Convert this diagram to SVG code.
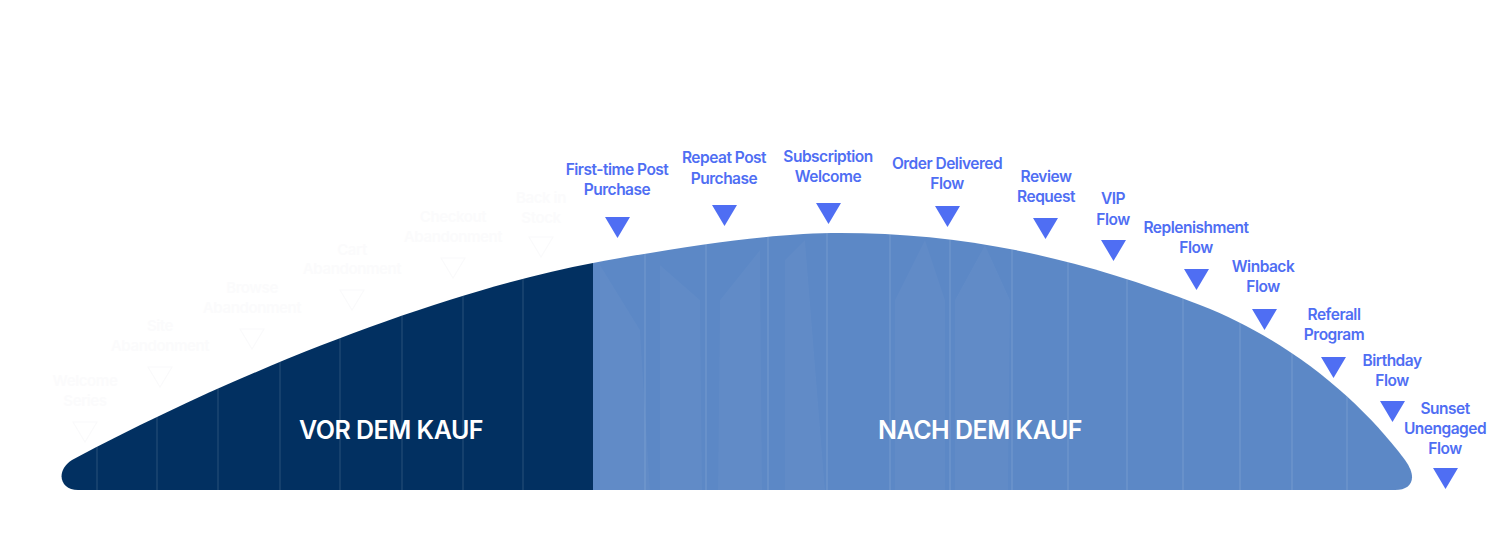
<svg xmlns="http://www.w3.org/2000/svg" width="1500" height="546" viewBox="0 0 1500 546">
  <style>
    .lbl { font-family: Inter, "Noto Sans", "Liberation Sans", sans-serif; font-weight: 600; font-size: 15.5px; letter-spacing: -0.5px; fill: #4f6ef3; text-anchor: middle; }
    .tri { fill: #4f6ef3; }
    .ghost { font-family: Inter, "Noto Sans", "Liberation Sans", sans-serif; font-weight: 600; font-size: 15px; letter-spacing: -0.4px; fill: #fbfbfc; text-anchor: middle; }
    .gtri { fill: none; stroke: #fafafb; stroke-width: 1.2; }
    .big { font-family: Inter, "Noto Sans", "Liberation Sans", sans-serif; font-weight: 600; font-size: 25px; letter-spacing: -0.5px; fill: #ffffff; text-anchor: middle; }
    .stripe { stroke: #ffffff; stroke-opacity: 0.08; stroke-width: 2; }
  </style>
  <defs>
    <clipPath id="hill">
      <path d="M 78,490 C 60,490 55,471 72,460 C 250,365 450,290 593,263 C 700,243 780,233 840,233 C 960,233 1070,255 1200,305 C 1290,340 1360,400 1405,460 C 1418,478 1412,490 1395,490 Z"/>
    </clipPath>
  </defs>
  <rect width="1500" height="546" fill="#ffffff"/>

  <g id="hill-shape" clip-path="url(#hill)">
    <rect x="0" y="200" width="593" height="300" fill="#023061"/>
    <rect x="593" y="200" width="900" height="300" fill="#5c88c6"/>
    <g class="stripe">
      <line x1="97" y1="200" x2="97" y2="490"/>
      <line x1="157" y1="200" x2="157" y2="490"/>
      <line x1="218" y1="200" x2="218" y2="490"/>
      <line x1="280" y1="200" x2="280" y2="490"/>
      <line x1="340" y1="200" x2="340" y2="490"/>
      <line x1="402" y1="200" x2="402" y2="490"/>
      <line x1="463" y1="200" x2="463" y2="490"/>
      <line x1="523" y1="200" x2="523" y2="490"/>
      <line x1="645" y1="200" x2="645" y2="490"/>
      <line x1="706" y1="200" x2="706" y2="490"/>
      <line x1="768" y1="200" x2="768" y2="490"/>
      <line x1="827" y1="200" x2="827" y2="490"/>
      <line x1="890" y1="200" x2="890" y2="490"/>
      <line x1="950" y1="200" x2="950" y2="490"/>
      <line x1="1012" y1="200" x2="1012" y2="490"/>
      <line x1="1068" y1="200" x2="1068" y2="490"/>
      <line x1="1127" y1="200" x2="1127" y2="490"/>
      <line x1="1183" y1="200" x2="1183" y2="490"/>
      <line x1="1240" y1="200" x2="1240" y2="490"/>
      <line x1="1292" y1="200" x2="1292" y2="490"/>
      <line x1="1347" y1="200" x2="1347" y2="490"/>
    </g>
    <g fill="#ffffff" fill-opacity="0.03">
      <path d="M 600,265 L 640,330 L 650,490 L 600,490 Z"/>
      <path d="M 660,265 L 700,300 L 702,490 L 660,490 Z"/>
      <path d="M 720,300 L 760,250 L 762,490 L 718,490 Z"/>
      <path d="M 785,260 L 805,240 L 825,490 L 785,490 Z"/>
      <path d="M 895,300 L 925,240 L 945,300 L 945,490 L 895,490 Z"/>
      <path d="M 955,300 L 985,245 L 1010,300 L 1008,490 L 955,490 Z"/>
    </g>
  </g>

  <g id="label-vor"><text class="big" x="391" y="439">VOR DEM KAUF</text></g>
  <g id="label-nach"><text class="big" x="980" y="439">NACH DEM KAUF</text></g>

  <g id="ghost-welcome"><text class="ghost" x="85" y="386">Welcome</text><text class="ghost" x="85" y="406">Series</text><path class="gtri" d="M 73,422 L 97,422 L 85,442 Z"/></g>
  <g id="ghost-site"><text class="ghost" x="160" y="331">Site</text><text class="ghost" x="160" y="351">Abandonment</text><path class="gtri" d="M 148,367 L 172,367 L 160,387 Z"/></g>
  <g id="ghost-browse"><text class="ghost" x="252" y="293">Browse</text><text class="ghost" x="252" y="313">Abandonment</text><path class="gtri" d="M 240,329 L 264,329 L 252,349 Z"/></g>
  <g id="ghost-cart"><text class="ghost" x="352" y="255">Cart</text><text class="ghost" x="352" y="274">Abandonment</text><path class="gtri" d="M 340,290 L 364,290 L 352,310 Z"/></g>
  <g id="ghost-checkout"><text class="ghost" x="453" y="222">Checkout</text><text class="ghost" x="453" y="242">Abandonment</text><path class="gtri" d="M 441,258 L 465,258 L 453,278 Z"/></g>
  <g id="ghost-backinstock"><text class="ghost" x="541" y="203">Back in</text><text class="ghost" x="541" y="223">Stock</text><path class="gtri" d="M 529,237 L 553,237 L 541,257 Z"/></g>

  <g id="node-first-time">
    <text class="lbl" x="617" y="175">First-time Post</text>
    <text class="lbl" x="617" y="195">Purchase</text>
    <path class="tri" d="M 605,217 L 630,217 L 617.5,238 Z"/>
  </g>
  <g id="node-repeat">
    <text class="lbl" x="724" y="163">Repeat Post</text>
    <text class="lbl" x="724" y="184">Purchase</text>
    <path class="tri" d="M 712,205 L 737,205 L 724.5,226 Z"/>
  </g>
  <g id="node-subscription">
    <text class="lbl" x="828" y="162">Subscription</text>
    <text class="lbl" x="828" y="182">Welcome</text>
    <path class="tri" d="M 816,203 L 841,203 L 828.5,224 Z"/>
  </g>
  <g id="node-order-delivered">
    <text class="lbl" x="947" y="169">Order Delivered</text>
    <text class="lbl" x="947" y="189">Flow</text>
    <path class="tri" d="M 935,206 L 960,206 L 947.5,227 Z"/>
  </g>
  <g id="node-review">
    <text class="lbl" x="1046" y="182">Review</text>
    <text class="lbl" x="1046" y="202">Request</text>
    <path class="tri" d="M 1033,218 L 1058,218 L 1045.5,239 Z"/>
  </g>
  <g id="node-vip">
    <text class="lbl" x="1113" y="204">VIP</text>
    <text class="lbl" x="1113" y="225">Flow</text>
    <path class="tri" d="M 1101,240 L 1126,240 L 1113.5,261 Z"/>
  </g>
  <g id="node-replenishment">
    <text class="lbl" x="1196" y="233">Replenishment</text>
    <text class="lbl" x="1196" y="253">Flow</text>
    <path class="tri" d="M 1184,269 L 1209,269 L 1196.5,290 Z"/>
  </g>
  <g id="node-winback">
    <text class="lbl" x="1263" y="272">Winback</text>
    <text class="lbl" x="1263" y="292">Flow</text>
    <path class="tri" d="M 1252,309 L 1277,309 L 1264.5,330 Z"/>
  </g>
  <g id="node-referall">
    <text class="lbl" x="1334" y="320">Referall</text>
    <text class="lbl" x="1334" y="340">Program</text>
    <path class="tri" d="M 1321,357 L 1346,357 L 1333.5,378 Z"/>
  </g>
  <g id="node-birthday">
    <text class="lbl" x="1392" y="366">Birthday</text>
    <text class="lbl" x="1392" y="386">Flow</text>
    <path class="tri" d="M 1380,401 L 1405,401 L 1392.5,422 Z"/>
  </g>
  <g id="node-sunset">
    <text class="lbl" x="1445" y="414">Sunset</text>
    <text class="lbl" x="1445" y="434">Unengaged</text>
    <text class="lbl" x="1445" y="454">Flow</text>
    <path class="tri" d="M 1433,468 L 1458,468 L 1445.5,489 Z"/>
  </g>

  <g id="connectors"></g>
</svg>
